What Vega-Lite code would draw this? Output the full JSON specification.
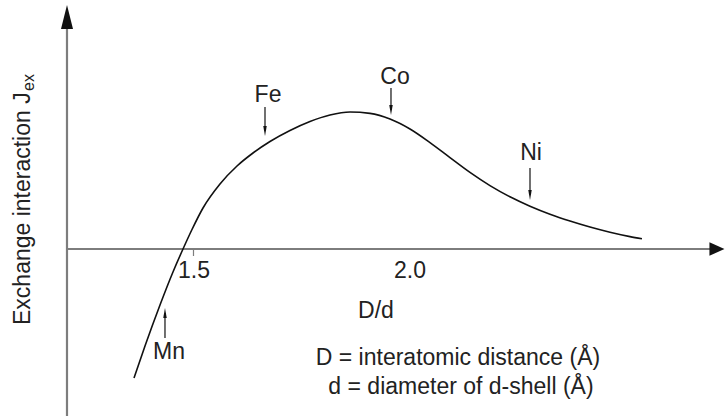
{
  "$schema": "https://vega.github.io/schema/vega-lite/v6.json",
  "width": 725,
  "height": 416,
  "padding": 0,
  "autosize": {"type": "none"},
  "background": "white",
  "config": {"view": {"stroke": null}, "font": "Liberation Sans"},
  "datasets": {
    "curve": [
      {"x": 1.3616, "y": -1.29}, {"x": 1.3872, "y": -0.97}, {"x": 1.4221, "y": -0.56},
      {"x": 1.4523, "y": -0.23}, {"x": 1.4756, "y": 0.0}, {"x": 1.4965, "y": 0.195},
      {"x": 1.5221, "y": 0.41}, {"x": 1.5616, "y": 0.65}, {"x": 1.6012, "y": 0.83},
      {"x": 1.6384, "y": 0.96}, {"x": 1.6779, "y": 1.075}, {"x": 1.7244, "y": 1.185},
      {"x": 1.7709, "y": 1.275}, {"x": 1.8174, "y": 1.34}, {"x": 1.864, "y": 1.37},
      {"x": 1.9105, "y": 1.356}, {"x": 1.957, "y": 1.3}, {"x": 2.0035, "y": 1.2},
      {"x": 2.05, "y": 1.064}, {"x": 2.0965, "y": 0.914}, {"x": 2.143, "y": 0.766},
      {"x": 2.1895, "y": 0.634}, {"x": 2.236, "y": 0.522}, {"x": 2.2826, "y": 0.428},
      {"x": 2.3291, "y": 0.348}, {"x": 2.3756, "y": 0.28}, {"x": 2.4221, "y": 0.22},
      {"x": 2.4686, "y": 0.168}, {"x": 2.5151, "y": 0.124}, {"x": 2.543, "y": 0.102}
    ],
    "axes": [
      {"x": 1.2058, "y": -1.67, "x2": 1.2058, "y2": 2.22},
      {"x": 1.2058, "y": 0, "x2": 2.705, "y2": 0}
    ],
    "ticks": [{"x": 1.5, "y": 0, "y2": -0.07}],
    "axisHeads": [
      {"x": 1.2058, "y": 2.32, "dir": "up"},
      {"x": 2.7174, "y": 0, "dir": "right"}
    ],
    "arrows": [
      {"element": "Fe", "x": 1.6663, "y": 1.42, "y2": 1.18, "dir": "down"},
      {"element": "Co", "x": 1.9593, "y": 1.61, "y2": 1.39, "dir": "down"},
      {"element": "Ni", "x": 2.2826, "y": 0.81, "y2": 0.54, "dir": "down"},
      {"element": "Mn", "x": 1.4337, "y": -0.89, "y2": -0.64, "dir": "up"}
    ],
    "labels": [
      {"text": "Fe", "x": 1.6733, "y": 1.54},
      {"text": "Co", "x": 1.9686, "y": 1.72},
      {"text": "Ni", "x": 2.2849, "y": 0.96},
      {"text": "Mn", "x": 1.443, "y": -1.03},
      {"text": "1.5", "x": 1.5012, "y": -0.22},
      {"text": "2.0", "x": 2.0035, "y": -0.22},
      {"text": "D/d", "x": 1.9244, "y": -0.62},
      {"text": "D = interatomic distance (Å)", "x": 2.1151, "y": -1.09},
      {"text": "d = diameter of d-shell (Å)", "x": 2.1221, "y": -1.38}
    ],
    "yTitle": [{"text": "Exchange interaction J", "x": 1.1035, "y": -0.76}],
    "yTitleSub": [{"text": "ex", "x": 1.117, "y": 1.58}]
  },
  "encoding": {
    "x": {"field": "x", "type": "quantitative", "scale": {"domain": [1.05, 2.7361], "nice": false, "zero": false}, "axis": null},
    "y": {"field": "y", "type": "quantitative", "scale": {"domain": [-1.67, 2.49], "nice": false, "zero": false}, "axis": null}
  },
  "layer": [
    {
      "data": {"name": "axes"},
      "mark": {"type": "rule", "color": "#7d7d7d", "strokeWidth": 2.2},
      "encoding": {"x2": {"field": "x2"}, "y2": {"field": "y2"}}
    },
    {
      "data": {"name": "ticks"},
      "mark": {"type": "rule", "color": "#7d7d7d", "strokeWidth": 1.2},
      "encoding": {"y2": {"field": "y2"}}
    },
    {
      "data": {"name": "axisHeads"},
      "transform": [{"filter": "datum.dir === 'up'"}],
      "mark": {"type": "point", "filled": true, "color": "#111111", "opacity": 1, "shape": "M0,-1L0.5,1L-0.5,1Z", "size": 576, "strokeWidth": 0}
    },
    {
      "data": {"name": "axisHeads"},
      "transform": [{"filter": "datum.dir === 'right'"}],
      "mark": {"type": "point", "filled": true, "color": "#111111", "opacity": 1, "shape": "M1,0L-1,-0.9L-1,0.9Z", "size": 225, "strokeWidth": 0}
    },
    {
      "data": {"name": "curve"},
      "mark": {"type": "line", "color": "#111111", "strokeWidth": 1.6, "interpolate": "monotone"}
    },
    {
      "data": {"name": "arrows"},
      "mark": {"type": "rule", "color": "#111111", "strokeWidth": 1.2},
      "encoding": {"y2": {"field": "y2"}}
    },
    {
      "data": {"name": "arrows"},
      "transform": [{"filter": "datum.dir === 'down'"}],
      "mark": {"type": "point", "filled": true, "color": "#111111", "opacity": 1, "shape": "M0,1L-0.35,-1L0.35,-1Z", "size": 100, "strokeWidth": 0},
      "encoding": {"y": {"field": "y2", "type": "quantitative"}}
    },
    {
      "data": {"name": "arrows"},
      "transform": [{"filter": "datum.dir === 'up'"}],
      "mark": {"type": "point", "filled": true, "color": "#111111", "opacity": 1, "shape": "M0,-1L0.35,1L-0.35,1Z", "size": 100, "strokeWidth": 0},
      "encoding": {"y": {"field": "y2", "type": "quantitative"}}
    },
    {
      "data": {"name": "labels"},
      "mark": {"type": "text", "fontSize": 23, "color": "#222222", "align": "center", "baseline": "middle"},
      "encoding": {"text": {"field": "text"}}
    },
    {
      "data": {"name": "yTitle"},
      "mark": {"type": "text", "fontSize": 23, "color": "#222222", "align": "left", "baseline": "middle", "angle": 270},
      "encoding": {"text": {"field": "text"}}
    },
    {
      "data": {"name": "yTitleSub"},
      "mark": {"type": "text", "fontSize": 16, "color": "#222222", "align": "left", "baseline": "middle", "angle": 270},
      "encoding": {"text": {"field": "text"}}
    }
  ]
}
